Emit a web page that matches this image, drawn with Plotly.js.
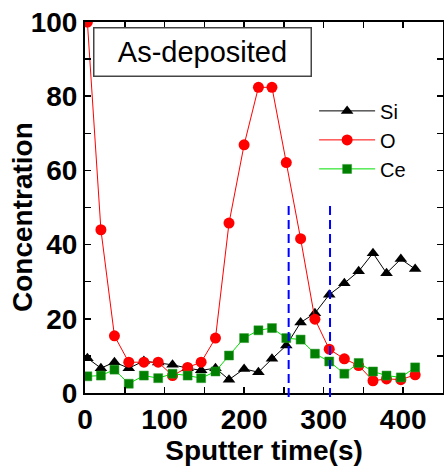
<!DOCTYPE html>
<html>
<head>
<meta charset="utf-8">
<script src="https://cdn.plot.ly/plotly-3.0.1.min.js"></script>
<style>html,body{margin:0;padding:0;background:#fff;}#chart{width:444px;height:466px;}</style>
</head>
<body>
<div id="chart"></div>
<script>
// Sputter time (s)
const time = [3, 20, 37, 55, 74, 92, 110, 129, 146, 164, 181, 200, 218, 235, 253, 271, 289, 307, 326, 344, 362, 379, 397, 415];
// Concentrations
const si = [9.4, 6.7, 8.3, 6.7, 8.6, 8.2, 7.6, 6.7, 6.1, 6.7, 3.6, 6.5, 5.6, 9.2, 12.8, 19.0, 21.5, 26.5, 29.6, 32.8, 37.7, 32.3, 36.1, 33.4];
const o  = [100, 44.0, 15.4, 8.3, 8.3, 8.3, 4.7, 6.9, 8.3, 14.8, 45.8, 66.9, 82.4, 82.4, 62.1, 41.6, 19.9, 11.8, 9.2, 7.4, 3.3, 3.8, 3.6, 4.9];
const ce = [4.5, 4.7, 6.3, 2.5, 4.7, 4.0, 5.2, 4.7, 4.0, 5.8, 10.1, 14.8, 16.9, 17.5, 14.8, 14.4, 10.6, 8.5, 5.2, 8.1, 5.8, 4.7, 4.2, 6.9];
// Boundary markers (s)
const boundaries = [256, 308];
const seriesNames = ['Si', 'O', 'Ce'];
const label = 'As-deposited';
const xTitle = 'Sputter time(s)';
const yTitle = 'Concentration';

const FONT = 'Arial, "Liberation Sans", sans-serif';

const traces = [
  {x: time, y: si, name: seriesNames[0], mode: 'lines+markers', type: 'scatter',
   line: {color: '#000000', width: 1},
   marker: {symbol: 'triangle-up', size: 11, color: '#000000'}},
  {x: time, y: o, name: seriesNames[1], mode: 'lines+markers', type: 'scatter',
   line: {color: '#ff0000', width: 1},
   marker: {symbol: 'circle', size: 11, color: '#ff0000'}},
  {x: time, y: ce, name: seriesNames[2], mode: 'lines+markers', type: 'scatter',
   line: {color: '#00e000', width: 1},
   marker: {symbol: 'square', size: 9, color: '#007f00', line: {color: '#2a9a2a', width: 0.5}}}
];

const shapes = boundaries.map(b => ({
  type: 'line', xref: 'x', yref: 'paper', x0: b, x1: b, y0: -0.011, y1: 0.507,
  line: {color: '#0000ff', width: 2, dash: '9px,5px'}
}));

const axisCommon = {
  showline: true, linecolor: '#000', linewidth: 2, mirror: 'allticks',
  ticks: 'inside', ticklen: 6, tickwidth: 1.5, tickcolor: '#000',
  showgrid: false, zeroline: false,
  tickfont: {family: FONT, size: 28, color: '#000', weight: 'bold'}
};

const layout = {
  width: 444, height: 466,
  margin: {l: 85, r: 1, t: 22, b: 73},
  paper_bgcolor: '#fff', plot_bgcolor: '#fff',
  showlegend: true,
  legend: {x: 0.64, y: 0.813, xanchor: 'left', yanchor: 'top', bgcolor: 'rgba(0,0,0,0)',
           font: {family: FONT, size: 20, color: '#000'}, tracegroupgap: 0, itemwidth: 56},
  xaxis: Object.assign({}, axisCommon, {
    range: [0, 450], dtick: 100, tick0: 0,
    minor: {dtick: 50, ticks: 'inside', ticklen: 6, tickwidth: 1.5, tickcolor: '#000'},
    title: {text: xTitle, font: {family: FONT, size: 28, color: '#000', weight: 'bold'}, standoff: 1}
  }),
  yaxis: Object.assign({}, axisCommon, {
    range: [0, 100], dtick: 20, tick0: 0,
    minor: {dtick: 10, ticks: 'inside', ticklen: 6, tickwidth: 1.5, tickcolor: '#000'}
  }),
  shapes: shapes,
  annotations: [{
    text: label, xref: 'paper', yref: 'paper',
    x: (202 - 85) / 358, y: (393 - 51.5) / 371, xanchor: 'center', yanchor: 'middle',
    showarrow: false, font: {family: FONT, size: 29, color: '#000'},
    width: 214, height: 45, borderpad: 1, bordercolor: '#444', borderwidth: 1.5, bgcolor: '#fff'
  }, {
    text: yTitle, xref: 'paper', yref: 'paper', textangle: -90,
    x: (23 - 85) / 358, y: (393 - 217) / 371, xanchor: 'center', yanchor: 'middle',
    showarrow: false, font: {family: FONT, size: 28, color: '#000', weight: 'bold'}
  }]
};

Plotly.newPlot('chart', traces, layout, {displayModeBar: false, staticPlot: true});
</script>
</body>
</html>
